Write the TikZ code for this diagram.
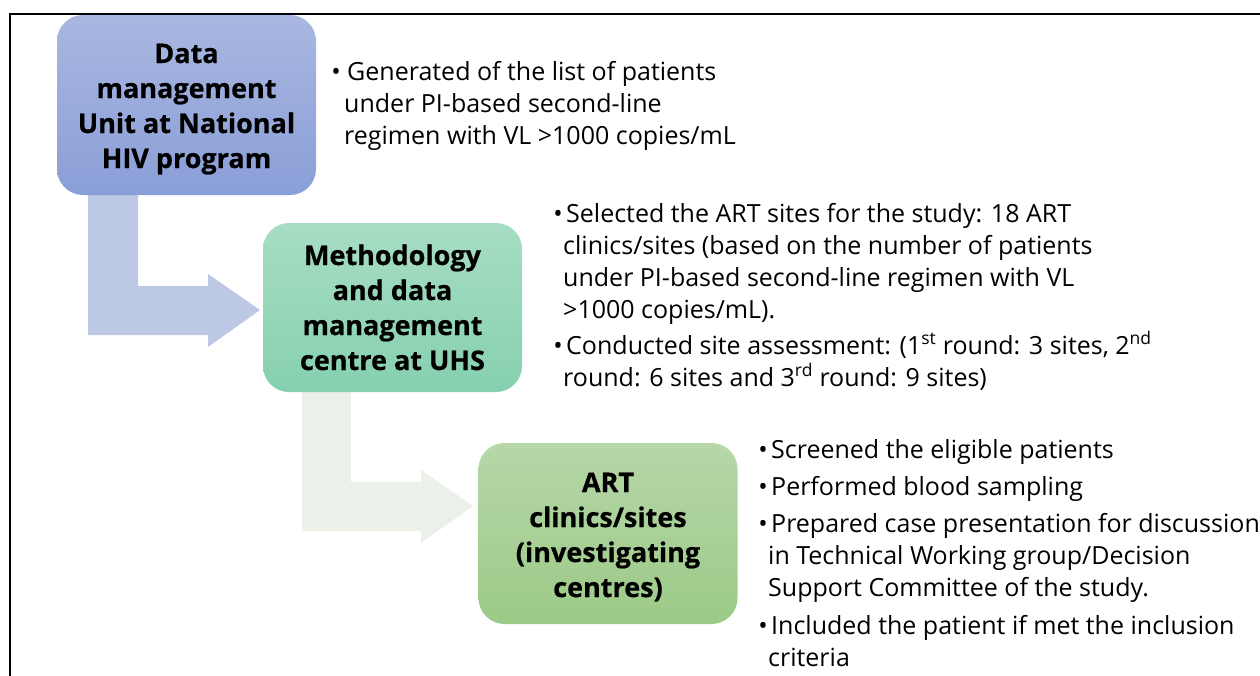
\documentclass[tikz,border=0pt]{standalone}
\usepackage{fontspec}
\setmainfont{Open Sans}
\newfontfamily\boxfont[BoldFeatures={FakeBold=0.6}]{Open Sans}
\usetikzlibrary{shadings}
\definecolor{boxAtop}{HTML}{A9B7E0}
\definecolor{boxAbot}{HTML}{8A9FD8}
\definecolor{boxBtop}{HTML}{A7DDC4}
\definecolor{boxBbot}{HTML}{86D0AF}
\definecolor{boxCtop}{HTML}{B6D7A8}
\definecolor{boxCbot}{HTML}{9CCA87}
\definecolor{arrA}{HTML}{BDC8E5}
\definecolor{arrB}{HTML}{EBF0E9}
\newcommand\tlines[1]{\begin{tabular}[t]{@{}l@{}}#1\end{tabular}}
\newcommand\clines[1]{\begin{tabular}[t]{@{}c@{}}#1\end{tabular}}
\begin{document}
\begin{tikzpicture}[x=1pt,y=-1pt,
  stagebox/.style={rounded corners=26pt, draw=none, minimum width=259pt, minimum height=180pt,
    inner sep=0pt},
  stagelabel/.style={inner sep=0pt, anchor=base, font=\boxfont\bfseries\fontsize{27}{35}\selectfont},
  bodytext/.style={inner sep=0pt, anchor=base west, font=\fontsize{25}{32}\selectfont},
  bulletmark/.style={inner sep=0pt, anchor=base, font=\fontsize{25}{25}\selectfont},
]
\useasboundingbox (0,0) rectangle (1260,675);
% frame
\draw[line width=2pt] (10,690) -- (10,14) -- (1275,14);

% bent arrows
\fill[arrA] (88,195) -- (138,195) -- (138,286) -- (208,286) -- (208,274) -- (260,310)
  -- (208,347) -- (208,335) -- (88,335) -- cycle;
\fill[arrB] (302,392) -- (351,392) -- (351,482) -- (421,482) -- (421,470) -- (473,506)
  -- (421,543) -- (421,531) -- (302,531) -- cycle;

% stage boxes
\node[stagebox, top color=boxAtop, bottom color=boxAbot] (b1) at (186.5,105) {};
\node[stagebox, top color=boxBtop, bottom color=boxBbot, minimum height=169pt] (b2) at (392.5,307.5) {};
\node[stagebox, top color=boxCtop, bottom color=boxCbot, minimum height=181pt] (b3) at (608,533.5) {};
\node[stagelabel] (l1) at (186.5,63) {\clines{Data\\management\\Unit at National\\HIV program}};
\node[stagelabel] (l2) at (392.5,265) {\clines{Methodology\\and data\\management\\centre at UHS}};
\node[stagelabel] (l3) at (608,492) {\clines{ART\\clinics/sites\\(investigating\\centres)}};

% descriptions, stage 1
\node[bulletmark] (m11) at (336,80) {•};
\node[bodytext] (t11) at (344,80) {\tlines{\hspace*{3pt}Generated of the list of patients\\under PI-based second-line\\regimen with VL >1000 copies/mL}};

% stage 2
\node[bulletmark] (m21) at (558,222) {•};
\node[bodytext] (t21) at (563,222) {\tlines{\hspace*{3pt}Selected the ART sites for the study: 18 ART\\clinics/sites (based on the number of patients\\under PI-based second-line regimen with VL\\>1000 copies/mL).}};
\node[bulletmark] (m22) at (558,354) {•};
\node[bodytext] (t22) at (563,354) {\tlines{\hspace*{3pt}Conducted site assessment: (1\textsuperscript{st} round: 3 sites, 2\textsuperscript{nd}\\round: 6 sites and 3\textsuperscript{rd} round: 9 sites)}};

% stage 3
\node[bulletmark] (m31) at (763,458) {•};
\node[bodytext] (t31) at (768,458) {\tlines{\hspace*{3pt}Screened the eligible patients}};
\node[bulletmark] (m32) at (763,495) {•};
\node[bodytext] (t32) at (768,495) {\tlines{\hspace*{3pt}Performed blood sampling}};
\node[bulletmark] (m33) at (763,532) {•};
\node[bodytext] (t33) at (768,532) {\tlines{\hspace*{3pt}Prepared case presentation for discussion\\in Technical Working group/Decision\\Support Committee of the study.}};
\node[bulletmark] (m34) at (763,634) {•};
\node[bodytext] (t34) at (768,634) {\tlines{\hspace*{3pt}Included the patient if met the inclusion\\criteria}};
\end{tikzpicture}
\end{document}
